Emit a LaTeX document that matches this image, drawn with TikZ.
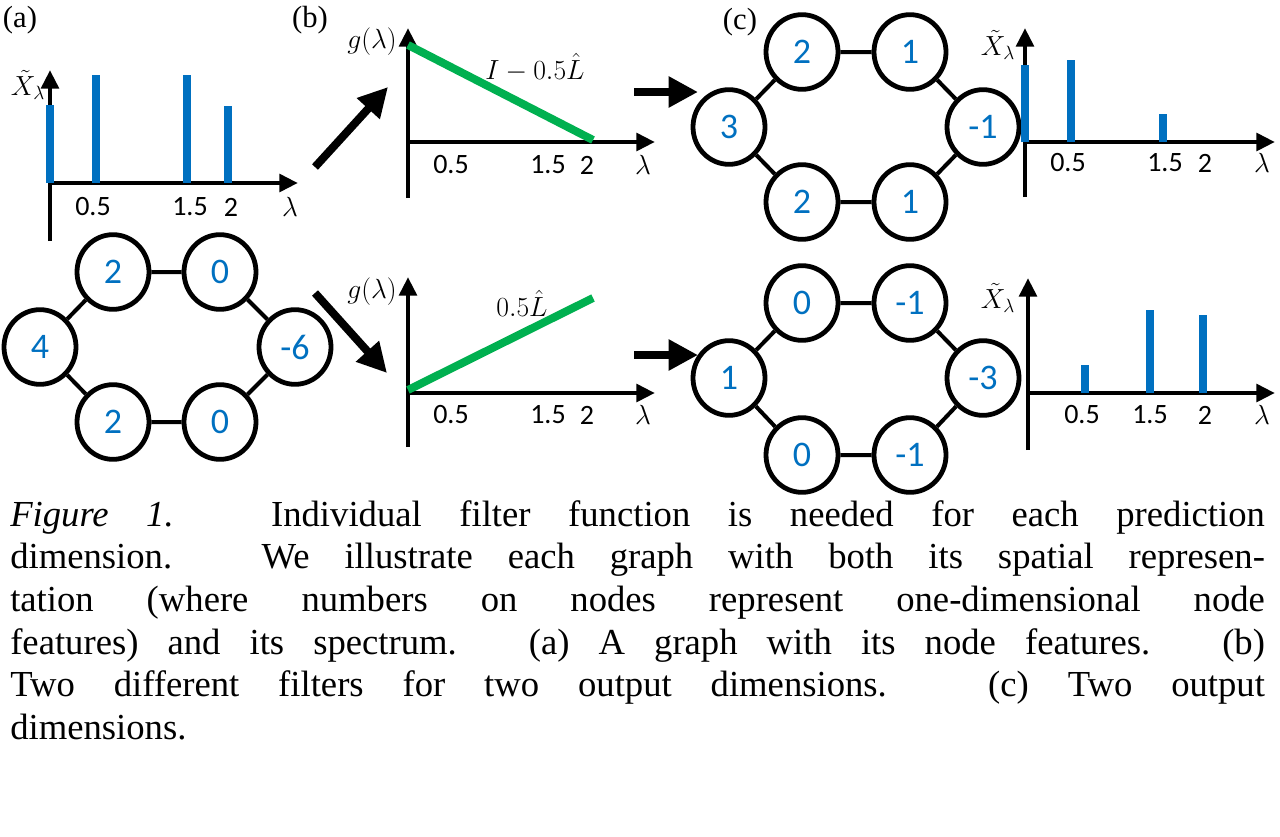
\documentclass[tikz,border=0pt]{standalone}
\usepackage{fontspec}
\setmainfont{Liberation Serif}
\newfontfamily\carl{Carlito}
\usetikzlibrary{arrows.meta,shapes.geometric}
\definecolor{fblue}{HTML}{0070C0}
\definecolor{fgreen}{HTML}{00B050}
\begin{document}
\begin{tikzpicture}[x=0.75pt,y=-0.75pt,
  gn/.style={draw,line width=3.6pt,ellipse,minimum width=54pt,minimum height=56pt,inner sep=0pt,text=fblue,font=\carl\fontsize{27}{27}\selectfont},
  ge/.style={line width=3pt},
  ax/.style={line width=3.6pt,-{Triangle[length=14pt,width=13pt]}},
  axn/.style={line width=3.6pt},
  bar/.style={fblue,line width=6.5pt},
  gl/.style={fgreen,line width=6pt},
  tk/.style={font=\carl\fontsize{21}{21}\selectfont},
  ml/.style={font=\fontsize{21}{21}\selectfont},
  pl/.style={font=\fontsize{23}{23}\selectfont},
  big/.style={line width=6pt,-{Triangle[length=22pt,width=22pt]}}]
\useasboundingbox (0,0) rectangle (1280,836);
% labels
\node[pl] (la) at (20,20) {(a)};
\node[pl] (lb) at (310,20) {(b)};
\node[pl] (lc) at (740,22) {(c)};
% panel a spectrum
\coordinate (ay0) at (50,241); \coordinate (ay1) at (50,70);
\coordinate (ax0) at (50,183); \coordinate (ax1) at (298,183);
\draw[ax] (ay0) -- (ay1);
\draw[ax] (ax0) -- (ax1);
\draw[bar] (50,183) -- (50,105);
\draw[bar] (96,183) -- (96,75);
\draw[bar] (187,183) -- (187,75);
\draw[bar] (228,183) -- (228,106);
\node[tk] (a05) at (93,207) {0.5};
\node[tk] (a15) at (190,207) {1.5};
\node[tk] (a2) at (231,207) {2};
\node[ml] (al) at (290,207) {$\lambda$};
\node[ml] (ax) at (28,85) {$\tilde X_\lambda$};
% graph a
\node[gn] (a1) at (113,272) {2};
\node[gn] (a2n) at (220,272) {0};
\node[gn] (a3) at (40,347) {4};
\node[gn] (a4) at (295,347) {-6};
\node[gn] (a5) at (113,422) {2};
\node[gn] (a6) at (220,422) {0};
\draw[ge] (a1)--(a2n) (a2n)--(a4) (a4)--(a6) (a6)--(a5) (a5)--(a3) (a3)--(a1);
% arrows a->b
\coordinate (p1) at (315,167); \coordinate (p2) at (388,87);
\coordinate (p3) at (315,293); \coordinate (p4) at (387,373);
\draw[big] (p1) -- (p2);
\draw[big] (p3) -- (p4);
% panel b top
\draw[axn] (408,198) -- (408,142);
\draw[ax] (408,142) -- (408,28);
\draw[ax] (408,142) -- (655,142);
\draw[gl] (408,45) -- (593,140);
\node[ml] (bt) at (535,68) {$I-0.5\hat L$};
\node[ml] (bg) at (372,42) {$g(\lambda)$};
\node[tk] (b05) at (451,165) {0.5};
\node[tk] (b15) at (548,165) {1.5};
\node[tk] (b2) at (587,165) {2};
\node[ml] (bl) at (643,165) {$\lambda$};
% panel b bottom
\draw[axn] (408,447) -- (408,393);
\draw[ax] (408,393) -- (408,277);
\draw[ax] (408,393) -- (655,393);
\draw[gl] (408,390) -- (593,298);
\node[ml] (bt2) at (522,303) {$0.5\hat L$};
\node[ml] (bg2) at (372,292) {$g(\lambda)$};
\node[tk] (c05) at (451,415) {0.5};
\node[tk] (c15) at (548,415) {1.5};
\node[tk] (c2) at (587,415) {2};
\node[ml] (cl) at (643,415) {$\lambda$};
% arrows b->c
\coordinate (q1) at (634,92); \coordinate (q2) at (698,92);
\coordinate (q3) at (634,355); \coordinate (q4) at (698,355);
\draw[big] (q1) -- (q2);
\draw[big] (q3) -- (q4);
% graph c top
\node[gn] (t1) at (802,52) {2};
\node[gn] (t2) at (910,52) {1};
\node[gn] (t3) at (729,127) {3};
\node[gn] (t4) at (983,127) {-1};
\node[gn] (t5) at (802,202) {2};
\node[gn] (t6) at (910,202) {1};
\draw[ge] (t1)--(t2) (t2)--(t4) (t4)--(t6) (t6)--(t5) (t5)--(t3) (t3)--(t1);
% graph c bottom
\node[gn] (u1) at (802,303) {0};
\node[gn] (u2) at (910,303) {-1};
\node[gn] (u3) at (729,378) {1};
\node[gn] (u4) at (983,378) {-3};
\node[gn] (u5) at (802,455) {0};
\node[gn] (u6) at (910,455) {-1};
\draw[ge] (u1)--(u2) (u2)--(u4) (u4)--(u6) (u6)--(u5) (u5)--(u3) (u3)--(u1);
% spectrum c top
\draw[axn] (1025,197) -- (1025,142);
\draw[ax] (1025,142) -- (1025,28);
\draw[ax] (1025,142) -- (1275,142);
\draw[bar] (1025,142) -- (1025,65);
\draw[bar] (1071,142) -- (1071,60);
\draw[bar] (1163,142) -- (1163,114);
\node[tk] (d05) at (1068,163) {0.5};
\node[tk] (d15) at (1165,163) {1.5};
\node[tk] (d2) at (1205,163) {2};
\node[ml] (dl) at (1262,163) {$\lambda$};
\node[ml] (dx) at (998,45) {$\tilde X_\lambda$};
% spectrum c bottom
\draw[axn] (1028,450) -- (1028,393);
\draw[ax] (1028,393) -- (1028,278);
\draw[ax] (1028,393) -- (1275,393);
\draw[bar] (1085,393) -- (1085,365);
\draw[bar] (1150,393) -- (1150,310);
\draw[bar] (1203,393) -- (1203,315);
\node[tk] (e05) at (1082,415) {0.5};
\node[tk] (e15) at (1150,415) {1.5};
\node[tk] (e2) at (1205,415) {2};
\node[ml] (el) at (1262,415) {$\lambda$};
\node[ml] (ex) at (998,298) {$\tilde X_\lambda$};
% caption
\node[anchor=north west,inner sep=0pt,text width=941pt,align=justify,font=\fontsize{27.5}{32}\selectfont] (cap) at (10,500)
{\emph{Figure 1.} Individual filter function is needed for each prediction\linebreak
dimension. We illustrate each graph with both its spatial represen-\linebreak
tation (where numbers on nodes represent one-dimensional node\linebreak
features) and its spectrum. (a) A graph with its node features. (b)\linebreak
Two different filters for two output dimensions. (c) Two output\linebreak
dimensions.\par};
\end{tikzpicture}
\end{document}
